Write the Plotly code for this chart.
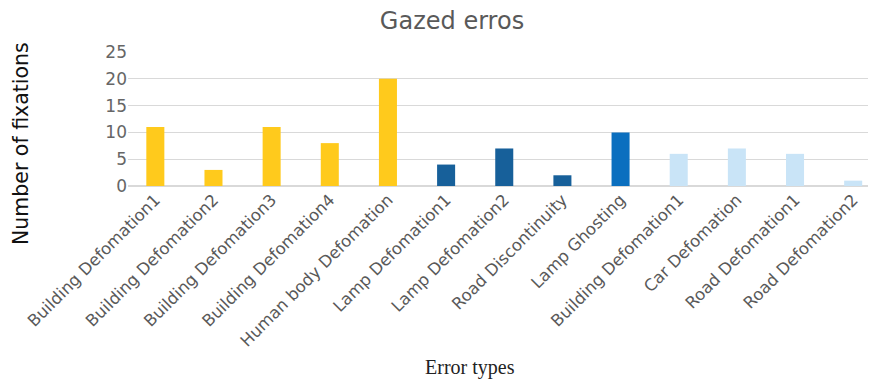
import plotly.graph_objects as go

# ── Data ──────────────────────────────────────────────────────────────────────
CATEGORIES = [
    "Building Defomation1", "Building Defomation2", "Building Defomation3",
    "Building Defomation4", "Human body Defomation", "Lamp Defomation1",
    "Lamp Defomation2", "Road Discontinuity", "Lamp Ghosting",
    "Building Defomation1", "Car Defomation", "Road Defomation1",
    "Road Defomation2",
]
FIXATIONS = [11, 3, 11, 8, 20, 4, 7, 2, 10, 6, 7, 6, 1]
GROUPS = ["a", "a", "a", "a", "a", "b", "b", "b", "c", "d", "d", "d", "d"]

GROUP_COLORS = {"a": "#FFCA1C", "b": "#17609A", "c": "#0B6FBF", "d": "#C9E4F7"}

# duplicate labels -> use positional x with tick text
x_pos = list(range(len(CATEGORIES)))

W, H = 876, 379
L, T, B = 120, 44, 201          # page body adds 8px offset, so compensate
PW, PH = W - L, H - T - B

fig = go.Figure()
fig.add_trace(go.Bar(
    x=x_pos,
    y=FIXATIONS,
    width=0.31,
    marker_color=[GROUP_COLORS[g] for g in GROUPS],
    marker_line_width=0,
    showlegend=False,
))

fig.update_layout(
    width=W, height=H,
    margin=dict(l=L, r=0, t=T, b=B),
    plot_bgcolor="white",
    paper_bgcolor="white",
    font=dict(family="DejaVu Sans", color="#666"),
    title=dict(
        text="Gazed erros", x=444 / W, xanchor="center", y=1 - 4 / H, yanchor="top",
        font=dict(family="DejaVu Sans", size=24, color="#595959"),
    ),
)

fig.update_xaxes(
    tickmode="array", tickvals=x_pos, ticktext=CATEGORIES,
    tickangle=-45, tickfont=dict(size=16.5, color="#595959"),
    range=[-0.47, 12.53], showgrid=False, zeroline=False,
    showline=False, ticks="", automargin=False,
)
fig.update_yaxes(
    range=[0, 25], dtick=5, tickfont=dict(size=17, color="#666"),
    gridcolor="#D9D9D9", gridwidth=1, zeroline=True, zerolinecolor="#D9D9D9",
    ticks="", ticklen=0, automargin=False,
)

fig.add_annotation(
    text="Number of fixations", xref="paper", yref="paper",
    x=(13 - L) / PW, y=(H - B - 136) / PH, xanchor="center", yanchor="middle",
    textangle=-90, showarrow=False,
    font=dict(family="DejaVu Sans", size=20.5, color="#111"),
)
fig.add_annotation(
    text="Error types", xref="paper", yref="paper",
    x=(462 - L) / PW, y=(H - B - 359) / PH, xanchor="center", yanchor="middle",
    showarrow=False, font=dict(family="Liberation Serif", size=20, color="#222"),
)

fig.write_html("out.html")
